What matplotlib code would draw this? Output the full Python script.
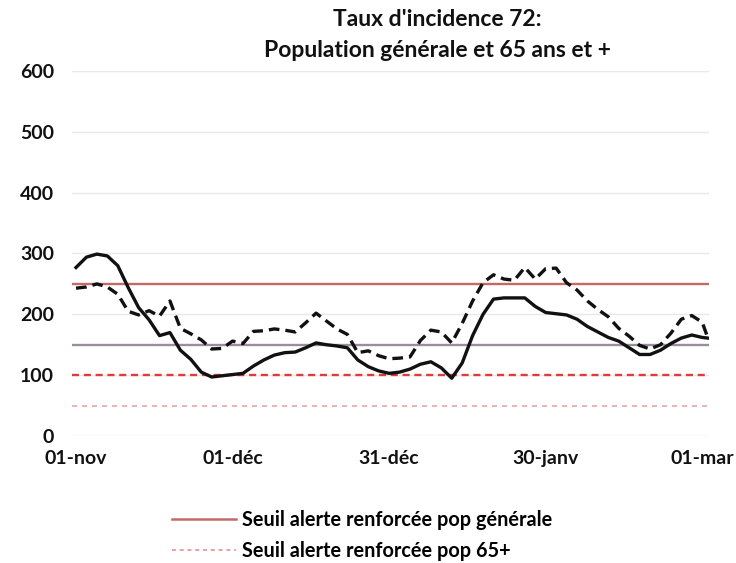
import matplotlib
matplotlib.use("Agg")
import matplotlib.pyplot as plt
from matplotlib.lines import Line2D
import pandas as pd

# ---- data ----
dates = pd.date_range("2020-11-01", periods=61, freq="2D").append(pd.DatetimeIndex(["2021-03-02"]))

pop_generale = [277, 294, 299, 296, 280, 244, 211, 191, 165, 170,
                141, 126, 105, 97, 99, 101, 103, 115, 125, 133,
                137, 138, 145, 153, 150, 148, 145, 125, 114, 107,
                103, 105, 110, 118, 122, 112, 95, 120, 165, 200,
                225, 227, 227, 227, 213, 203, 201, 199, 192, 180,
                171, 162, 156, 145, 134, 134, 141, 152, 161, 166,
                162, 161]

pop_65plus = [243, 245, 250, 245, 233, 205, 199, 206, 197, 222,
              177, 168, 158, 143, 144, 156, 152, 172, 173, 176,
              174, 171, 186, 202, 189, 176, 167, 137, 140, 132,
              127, 128, 130, 157, 174, 171, 153, 185, 222, 252,
              265, 258, 256, 277, 258, 275, 276, 252, 240, 222,
              208, 196, 177, 164, 149, 143, 150, 169, 192, 198,
              187, 163]

seuils_generale = [250, 150]
seuils_65plus = [100, 50]

yticks = [0, 100, 200, 300, 400, 500, 600]
xtick_dates = ["2020-11-01", "2020-12-01", "2020-12-31", "2021-01-30", "2021-03-01"]
xtick_labels = ["01-nov", "01-déc", "31-déc", "30-janv", "01-mar"]

title = "Taux d'incidence 72:\nPopulation générale et 65 ans et +"
legend_labels = ["Seuil alerte renforcée pop générale", "Seuil alerte renforcée pop 65+"]

# ---- figure ----
plt.rcParams["font.family"] = ["Lato", "DejaVu Sans"]
plt.rcParams["font.weight"] = "bold"

W, H = 736, 563
fig = plt.figure(figsize=(W / 100, H / 100), dpi=100)
ax = fig.add_axes([72 / W, 1 - 436 / H, (709 - 72) / W, (436 - 71) / H])

# gridlines
for v in yticks:
    ax.axhline(v, color="#e9e9e9", lw=1.0, zorder=0)

# thresholds
ax.axhline(seuils_generale[0], color="#c46868", lw=1.7, zorder=1)
ax.axhline(seuils_generale[1], color="#9a8e9c", lw=1.7, zorder=1)
ax.axhline(seuils_65plus[0], color="#e03a3a", lw=1.7, dashes=(3, 2), zorder=1)
ax.axhline(seuils_65plus[1], color="#eba4a4", lw=1.2, dashes=(3, 3), zorder=1)

# series
ax.plot(dates, pop_generale, color="#111111", lw=2.4, solid_joinstyle="round", zorder=3)
ax.plot(dates, pop_65plus, color="#111111", lw=2.4, dashes=(3.2, 1.8), zorder=3)

d0 = pd.Timestamp("2020-11-01")
ax.set_xlim(d0 - pd.Timedelta(days=0.77), d0 + pd.Timedelta(days=121.3))
ax.set_ylim(0, 600)

ax.set_yticks(yticks)
ax.set_yticklabels([str(v) for v in yticks])
ax.set_xticks(pd.to_datetime(xtick_dates))
ax.set_xticklabels(xtick_labels)
ax.tick_params(axis="both", length=0, labelsize=14, colors="#111111")
ax.tick_params(axis="y", pad=13)
ax.tick_params(axis="x", pad=10)
for s in ax.spines.values():
    s.set_visible(False)

fig.text(437 / W, 1 - 35 / H, title, ha="center", va="center",
         fontsize=16.5, fontweight="bold", color="#111111", linespacing=1.6)

handles = [Line2D([0], [0], color="#c46868", lw=1.8),
           Line2D([0], [0], color="#e8a0a0", lw=1.4, dashes=(2, 2))]
fig.legend(handles, legend_labels, loc="upper left",
           bbox_to_anchor=(172 / W, 1 - 510 / H), frameon=False,
           fontsize=14.3, handlelength=3.2, handletextpad=0.3,
           labelspacing=0.55, borderpad=0, borderaxespad=0)

fig.savefig("out.png", dpi=100, facecolor="white")
